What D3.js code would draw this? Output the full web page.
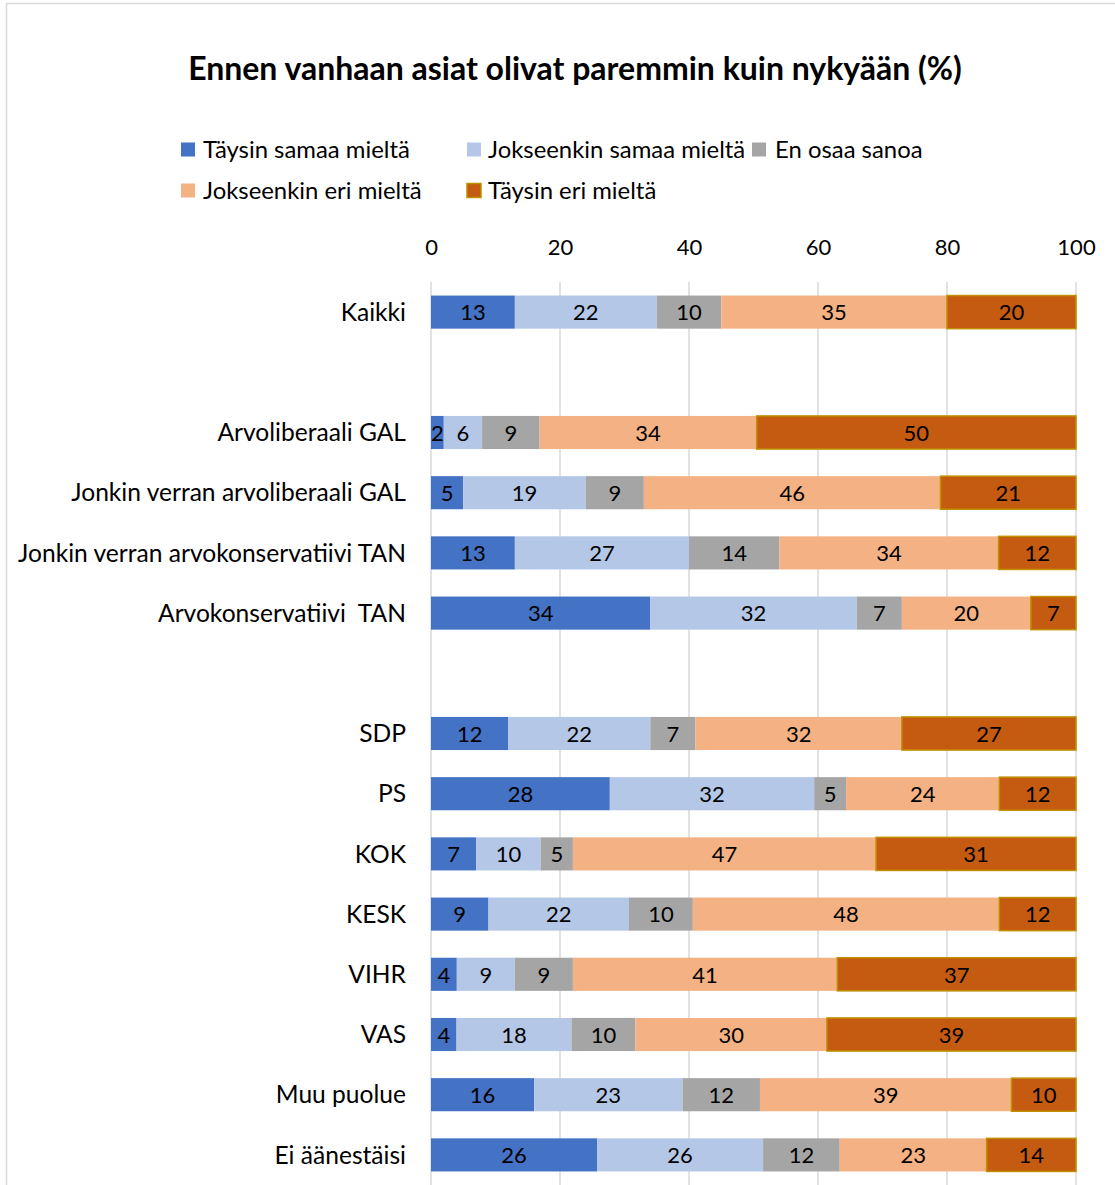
<!DOCTYPE html>
<html>
<head>
<meta charset="utf-8">
<script src="https://cdn.jsdelivr.net/npm/d3@7"></script>
<style>
  html, body { margin: 0; padding: 0; background: #fff; }
  svg { display: block; }
  text { font-family: Lato, "Open Sans", sans-serif; fill: #000; white-space: pre; }
</style>
</head>
<body>
<svg id="chart" width="1115" height="1185"></svg>
<script>
// ---- data ----
const title = "Ennen vanhaan asiat olivat paremmin kuin nykyään (%)";
const categories = [
  "Kaikki", "",
  "Arvoliberaali GAL", "Jonkin verran arvoliberaali GAL",
  "Jonkin verran arvokonservatiivi TAN", "Arvokonservatiivi  TAN", "",
  "SDP", "PS", "KOK", "KESK", "VIHR", "VAS", "Muu puolue", "Ei äänestäisi"
];
const seriesNames = ["Täysin samaa mieltä", "Jokseenkin samaa mieltä", "En osaa sanoa",
                     "Jokseenkin eri mieltä", "Täysin eri mieltä"];
const taysinSamaa     = [13, null,  2,  5, 13, 34, null, 12, 28,  7,  9,  4,  4, 16, 26];
const jokseenkinSamaa = [22, null,  6, 19, 27, 32, null, 22, 32, 10, 22,  9, 18, 23, 26];
const enOsaa          = [10, null,  9,  9, 14,  7, null,  7,  5,  5, 10,  9, 10, 12, 12];
const jokseenkinEri   = [35, null, 34, 46, 34, 20, null, 32, 24, 47, 48, 41, 30, 39, 23];
const taysinEri       = [20, null, 50, 21, 12,  7, null, 27, 12, 31, 12, 37, 39, 10, 14];
const tickValues = [0, 20, 40, 60, 80, 100];

// ---- styles ----
const colors = ["#4472c4", "#b4c7e7", "#a5a5a5", "#f4b183", "#c55a11"];
const strokes = [null, null, null, null, "#bf9000"];

const svg = d3.select("#chart");

// font fitting helper
function fitSize(txt, weight, target) {
  const t = svg.append("text").attr("font-size", 100).attr("font-weight", weight).text(txt);
  const w = t.node().getComputedTextLength();
  t.remove();
  return 100 * target / w;
}
const titleSize = fitSize(title, "bold", 774);
const catSize = fitSize("Jonkin verran arvokonservatiivi TAN", "normal", 388);
const legSize = fitSize("Täysin samaa mieltä", "normal", 207);
const numSize = 22;

// chart area border
svg.append("rect").attr("x", 6.5).attr("y", 3.5).attr("width", 1130).attr("height", 1200)
  .attr("fill", "#fff").attr("stroke", "#d9d9d9").attr("stroke-width", 1.5);

// title
svg.append("text").attr("x", 575).attr("y", 79.5).attr("text-anchor", "middle")
  .attr("font-weight", "bold").attr("font-size", titleSize).text(title);

// legend
const legendPos = [
  {x: 181, y: 150, tx: 203}, {x: 467, y: 150, tx: 488}, {x: 752, y: 150, tx: 775},
  {x: 181, y: 191, tx: 203}, {x: 467, y: 191, tx: 488}
];
seriesNames.forEach((n, i) => {
  const p = legendPos[i];
  svg.append("rect").attr("x", p.x).attr("y", p.y - 7.5).attr("width", 14).attr("height", 14)
    .attr("fill", colors[i])
    .attr("stroke", strokes[i] || "none").attr("stroke-width", 1.5);
  svg.append("text").attr("x", p.tx).attr("y", p.y).attr("dy", "0.35em")
    .attr("font-size", legSize).text(n);
});

// scales
const x = d3.scaleLinear().domain([0, 100]).range([431, 1076]);
const y = d3.scaleBand().domain(d3.range(categories.length)).range([282, 1185]).paddingInner(0.45).paddingOuter(0.225);

// gridlines
svg.append("g").selectAll("line").data(tickValues).join("line")
  .attr("x1", d => x(d)).attr("x2", d => x(d)).attr("y1", 282).attr("y2", 1185)
  .attr("stroke", "#d9d9d9").attr("stroke-width", 1.5);

// top axis
const axis = svg.append("g").attr("transform", "translate(0,282)")
  .call(d3.axisTop(x).tickValues(tickValues).tickSize(0).tickPadding(27).tickFormat(d3.format("d")));
axis.select(".domain").remove();
axis.selectAll("text").attr("font-size", numSize).attr("font-family", "Lato, 'Open Sans', sans-serif").attr("fill", "#000");

// category labels
svg.append("g").selectAll("text").data(categories).join("text")
  .attr("x", 406).attr("y", (d, i) => y(i) + y.bandwidth() / 2).attr("dy", "0.35em")
  .attr("text-anchor", "end").attr("font-size", catSize).text(d => d);

// stacked data (100% stacked)
const rows = categories.map((c, i) => ({
  i,
  v: [taysinSamaa[i], jokseenkinSamaa[i], enOsaa[i], jokseenkinEri[i], taysinEri[i]]
})).filter(r => r.v[0] != null);

const stack = d3.stack().keys(d3.range(5)).value((r, k) => r.v[k]).offset(d3.stackOffsetExpand);
const layers = stack(rows);

layers.forEach((layer, k) => {
  const g = svg.append("g");
  g.selectAll("rect").data(layer).join("rect")
    .attr("x", d => x(d[0] * 100)).attr("width", d => x(d[1] * 100) - x(d[0] * 100))
    .attr("y", d => y(d.data.i)).attr("height", y.bandwidth())
    .attr("fill", colors[k])
    .attr("stroke", strokes[k] || "none").attr("stroke-width", 1.5);
});
layers.forEach((layer, k) => {
  svg.append("g").selectAll("text").data(layer).join("text")
    .attr("x", d => (x(d[0] * 100) + x(d[1] * 100)) / 2)
    .attr("y", d => y(d.data.i) + y.bandwidth() / 2).attr("dy", "0.38em")
    .attr("text-anchor", "middle").attr("font-size", numSize)
    .text(d => d.data.v[k]);
});
</script>
</body>
</html>
